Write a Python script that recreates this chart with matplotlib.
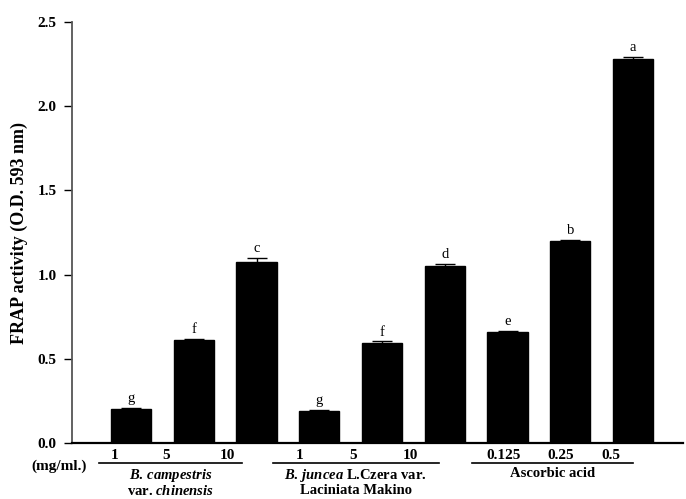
import matplotlib
matplotlib.use("Agg")
import matplotlib.pyplot as plt
import matplotlib.transforms as mtransforms

plt.rcParams["font.family"] = ["Liberation Serif", "DejaVu Serif"]
plt.rcParams["mathtext.fontset"] = "custom"
plt.rcParams["mathtext.it"] = "Liberation Serif:italic:bold"
plt.rcParams["mathtext.rm"] = "Liberation Serif:bold"

# data
values = [0.20, 0.61, 1.075, 0.192, 0.593, 1.05, 0.657, 1.198, 2.28]
errors = [0.010, 0.010, 0.025, 0.006, 0.010, 0.015, 0.008, 0.010, 0.015]
letters = ["g", "f", "c", "g", "f", "d", "e", "b", "a"]
dose_labels = ["1", "5", "10", "1", "5", "10", "0.125", "0.25", "0.5"]
group_names = ["$\\mathit{B.\\,campestris}$\nvar. $\\mathit{chinensis}$",
               "$\\mathit{B.\\,juncea}$ L.Czera var.\nLaciniata Makino",
               "Ascorbic acid"]
yticks = [0.0, 0.5, 1.0, 1.5, 2.0, 2.5]

# label positions (data x) – the original labels sit left of the bars
dose_x = [-0.255, 0.56, 1.53, 2.68, 3.54, 4.45, 5.93, 6.84, 7.64]
group_lines = [(-0.51, 1.77), (2.26, 4.90), (5.44, 8.0)]

fig = plt.figure(figsize=(6.86, 4.99), dpi=100)
fig.patch.set_facecolor("white")
ax = fig.add_axes([0.105, 0.1122, 0.891, 0.8437])

x = list(range(len(values)))
ax.bar(x, values, width=0.64, color="black", edgecolor="black", zorder=2)
ax.errorbar(x, values, yerr=errors, fmt="none", ecolor="black",
            elinewidth=1.0, capsize=7, capthick=1.0, zorder=3)
for xi, v, e, lt in zip(x, values, errors, letters):
    ax.text(xi, v + e + 0.015, lt, ha="center", va="bottom", fontsize=10.5)

ax.set_xlim(-0.94, 8.8)
ax.set_ylim(0, 2.5)
ax.set_yticks(yticks)
ax.set_yticklabels([f"{t:.1f}" for t in yticks], fontweight="bold", fontsize=11)
ax.tick_params(axis="y", direction="out", length=6, width=1.0, pad=5)
ax.set_xticks([])
ax.set_ylabel("FRAP activity (O.D. 593 nm)", fontweight="bold", fontsize=13,
              labelpad=7)

for side in ["top", "right"]:
    ax.spines[side].set_visible(False)
ax.spines["left"].set_color("#555555")
ax.spines["left"].set_linewidth(1.3)
ax.spines["bottom"].set_linewidth(1.6)

trans = mtransforms.blended_transform_factory(ax.transData, ax.transAxes)
for dx, lab in zip(dose_x, dose_labels):
    ax.text(dx, -0.030, lab, transform=trans, ha="center", va="center",
            fontsize=11, fontweight="bold", clip_on=False)
for (x0, x1), name in zip(group_lines, group_names):
    ax.plot([x0, x1], [-0.047, -0.047], transform=trans,
            color="black", linewidth=1.2, clip_on=False)
    ax.text((x0 + x1) / 2, -0.057, name, transform=trans, ha="center",
            va="top", fontsize=10.5, fontweight="bold", linespacing=1.0,
            clip_on=False)
ax.text(-1.14, -0.055, "(mg/ml.)", transform=trans, ha="center", va="center",
        fontsize=11, fontweight="bold", clip_on=False)

plt.savefig("out.png", dpi=100, facecolor=fig.get_facecolor())
